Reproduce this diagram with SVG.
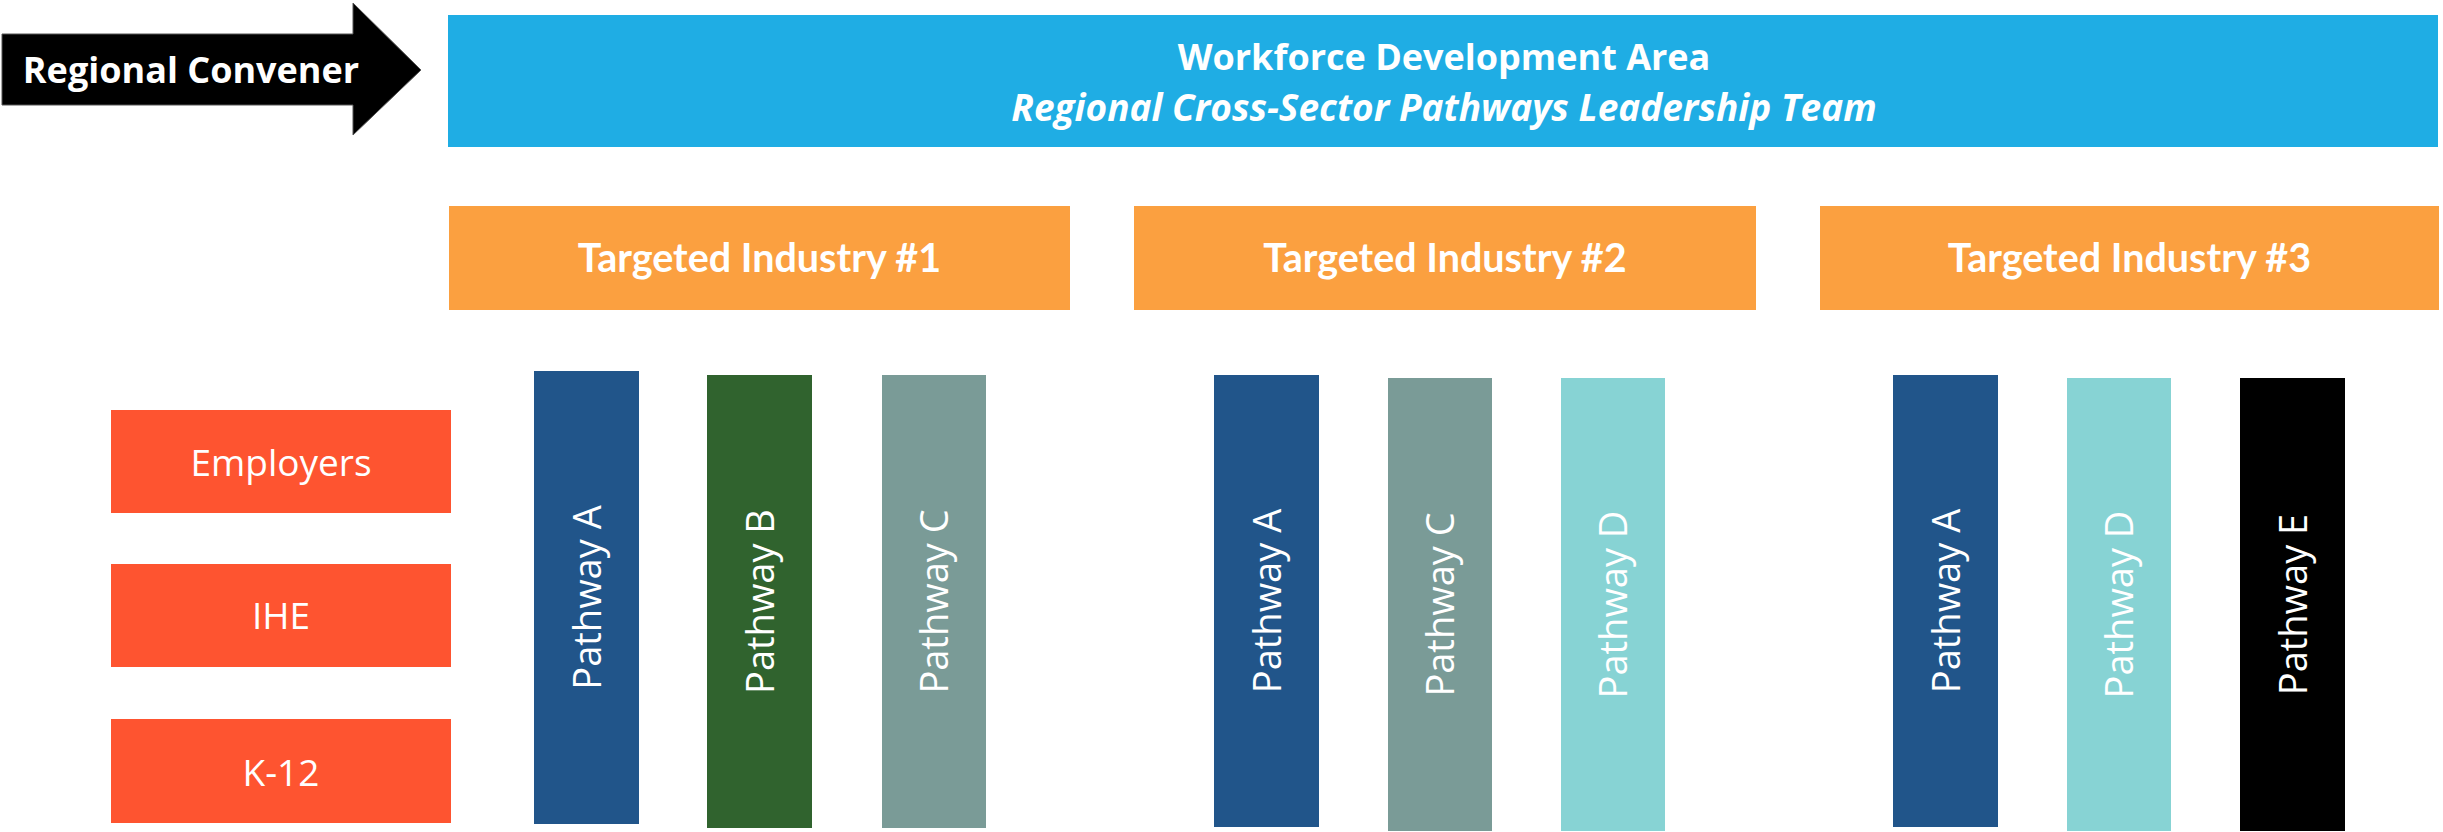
<svg xmlns="http://www.w3.org/2000/svg" width="2443" height="832" viewBox="0 0 2443 832">
<style>
.w{fill:#ffffff}
.hdr{font-family:"Open Sans","Liberation Sans",sans-serif;font-weight:700}
.ind{font-family:Lato,"Open Sans",sans-serif;font-weight:700;font-size:39.5px}
.lab{font-family:"Open Sans","Liberation Sans",sans-serif;font-size:37px}
.pw{font-family:"Open Sans","Liberation Sans",sans-serif;font-size:38px}
.org{fill:#FBA040}
.red{fill:#FE5430}
.pa{fill:#21558A}
.pb{fill:#30632E}
.pc{fill:#7A9B97}
.pd{fill:#87D3D4}
.pe{fill:#000000}
</style>
<g id="connectors"></g>
<g id="regional-convener">
<polygon points="2,34 353,34 353,3 421,70 353,135 353,105 2,105" fill="#000" stroke="#555" stroke-width="1"/>
<text class="hdr w" x="191" y="83" font-size="36" text-anchor="middle">Regional Convener</text>
</g>
<g id="wda">
<rect x="448" y="15" width="1990" height="132" fill="#1FADE4"/>
<text class="hdr w" x="1444" y="70" font-size="36" font-weight="600" text-anchor="middle">Workforce Development Area</text>
<text class="hdr w" x="1444" y="121" font-size="37" font-style="italic" text-anchor="middle">Regional Cross-Sector Pathways Leadership Team</text>
</g>
<g id="industry1">
<rect class="org" x="449" y="206" width="621" height="104"/>
<text class="ind w" x="759.5" y="272" text-anchor="middle">Targeted Industry #1</text>
</g>
<g id="industry2">
<rect class="org" x="1134" y="206" width="622" height="104"/>
<text class="ind w" x="1445" y="272" text-anchor="middle">Targeted Industry #2</text>
</g>
<g id="industry3">
<rect class="org" x="1820" y="206" width="619" height="104"/>
<text class="ind w" x="2129.5" y="272" text-anchor="middle">Targeted Industry #3</text>
</g>
<g id="employers">
<rect class="red" x="111" y="410" width="340" height="103"/>
<text class="lab w" x="281" y="476" text-anchor="middle">Employers</text>
</g>
<g id="ihe">
<rect class="red" x="111" y="564" width="340" height="103"/>
<text class="lab w" x="281" y="629" text-anchor="middle">IHE</text>
</g>
<g id="k12">
<rect class="red" x="111" y="719" width="340" height="104"/>
<text class="lab w" x="281" y="786" text-anchor="middle">K-12</text>
</g>
<g id="i1-pathway-a">
<rect class="pa" x="534" y="371" width="105" height="453"/>
<text class="pw w" transform="translate(586.5,597.5) rotate(-90)" y="14" text-anchor="middle">Pathway A</text>
</g>
<g id="i1-pathway-b">
<rect class="pb" x="707" y="375" width="105" height="453"/>
<text class="pw w" transform="translate(759.5,601.5) rotate(-90)" y="14" text-anchor="middle">Pathway B</text>
</g>
<g id="i1-pathway-c">
<rect class="pc" x="882" y="375" width="104" height="453"/>
<text class="pw w" transform="translate(934,601.5) rotate(-90)" y="14" text-anchor="middle">Pathway C</text>
</g>
<g id="i2-pathway-a">
<rect class="pa" x="1214" y="375" width="105" height="452"/>
<text class="pw w" transform="translate(1266.5,601) rotate(-90)" y="14" text-anchor="middle">Pathway A</text>
</g>
<g id="i2-pathway-c">
<rect class="pc" x="1388" y="378" width="104" height="453"/>
<text class="pw w" transform="translate(1440,604.5) rotate(-90)" y="14" text-anchor="middle">Pathway C</text>
</g>
<g id="i2-pathway-d">
<rect class="pd" x="1561" y="378" width="104" height="453"/>
<text class="pw w" transform="translate(1613,604.5) rotate(-90)" y="14" text-anchor="middle">Pathway D</text>
</g>
<g id="i3-pathway-a">
<rect class="pa" x="1893" y="375" width="105" height="452"/>
<text class="pw w" transform="translate(1945.5,601) rotate(-90)" y="14" text-anchor="middle">Pathway A</text>
</g>
<g id="i3-pathway-d">
<rect class="pd" x="2067" y="378" width="104" height="453"/>
<text class="pw w" transform="translate(2119,604.5) rotate(-90)" y="14" text-anchor="middle">Pathway D</text>
</g>
<g id="i3-pathway-e">
<rect class="pe" x="2240" y="378" width="105" height="453"/>
<text class="pw w" transform="translate(2292.5,604.5) rotate(-90)" y="14" text-anchor="middle">Pathway E</text>
</g>
</svg>
